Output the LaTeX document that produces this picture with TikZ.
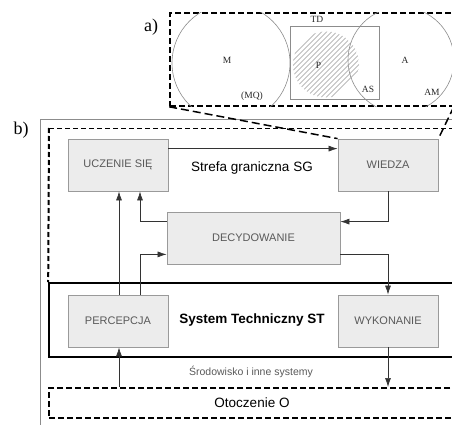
\documentclass[tikz,border=0pt]{standalone}
\usepackage{fontspec}
\setmainfont{Liberation Serif}
\setsansfont{Liberation Sans}
\usetikzlibrary{arrows.meta}

\definecolor{boxfill}{HTML}{ECECEC}
\definecolor{boxline}{HTML}{9A9A9A}
\definecolor{boxtext}{HTML}{595959}
\definecolor{linegray}{HTML}{8C8C8C}

\begin{document}
\begin{tikzpicture}[x=1pt, y=-1pt,
  blok/.style={draw=boxline, fill=boxfill, line width=0.8pt, minimum width=100pt,
    minimum height=52pt, inner sep=0pt, text=boxtext,
    font=\sffamily\fontsize{11}{13}\selectfont},
  conn/.style={draw=black!80, line width=0.7pt, -{Latex[length=9pt,width=6pt]}},
  bigdash/.style={draw=black, line width=1.6pt, dash pattern=on 6pt off 3pt},
  zoomdash/.style={draw=black, line width=1.5pt, dash pattern=on 8pt off 4pt},
  lbl/.style={font=\fontsize{9.5}{10}\selectfont, text=black!85, inner sep=0pt},
  thin/.style={draw=linegray, line width=0.6pt}]
\useasboundingbox (0,0) rectangle (452,425);

% a)
\node[font=\fontsize{18}{19}\selectfont] (etA) at (151,27) {a)};
\node[bigdash, minimum width=283pt, minimum height=93pt, inner sep=0pt] (detal) at (311.5,59.5) {};
\begin{scope}
\clip (detal.north west) rectangle (detal.south east);
\draw[thin] (231,63) circle [radius=59];
\draw[thin] (401,60) circle [radius=53];
\end{scope}
\node[draw=linegray, line width=0.8pt, minimum width=89pt, minimum height=73pt, inner sep=0pt] (td) at (334.5,62.5) {};
\begin{scope}
\clip (326,64.5) circle [radius=33];
\foreach \x in {244,249,...,328}
  \draw[draw=boxline, line width=0.6pt] (\x,104.5) -- (\x+80,24.5);
\end{scope}
\node[lbl] (tdlab) at (317,19.5) {TD};
\node[lbl] (p) at (318.5,65) {P};
\node[lbl] (m) at (227,60) {M};
\node[lbl] (mq) at (252,96.5) {(MQ)};
\node[lbl] (a) at (405,60) {A};
\node[lbl] (as) at (368,89) {AS};
\node[lbl] (am) at (432,92.5) {AM};

% b)
\node[font=\fontsize{18}{19}\selectfont] (etB) at (21,130) {b)};
\draw[draw=linegray, line width=0.8pt] (40,430) -- (40,119) -- (460,119);
\node[draw, line width=1.6pt, minimum width=406pt, minimum height=74pt, inner sep=0pt,
  font=\sffamily\bfseries\fontsize{13.5}{15}\selectfont] (st) at (252,320) {System Techniczny ST};
\draw[draw=black, line width=0.8pt, dash pattern=on 5pt off 3pt] (49,128) -- (460,128);
\draw[draw=black, line width=2pt, dash pattern=on 5pt off 3pt] (49,128) -- (st.north west);
\node[font=\sffamily\fontsize{13.5}{15}\selectfont] (sg) at (252,168) {Strefa graniczna SG};

\node[blok] (ucz) at (118,165) {UCZENIE SIĘ};
\node[blok] (wiedza) at (388,165) {WIEDZA};
\node[blok, minimum width=173pt] (decyd) at (253.5,238) {DECYDOWANIE};
\node[blok] (percep) at (118,321) {PERCEPCJA};
\node[blok] (wyk) at (388,321) {WYKONANIE};

\node[font=\sffamily\fontsize{10.5}{12}\selectfont, text=boxtext] (srod) at (251,372) {Środowisko i inne systemy};
\node[bigdash, line width=2pt, minimum width=406pt, minimum height=30pt, inner sep=0pt,
  font=\sffamily\fontsize{13.5}{15}\selectfont] (otocz) at (252,403) {Otoczenie O};

\draw[zoomdash] (detal.south west) -- (wiedza.north west);
\draw[zoomdash] (detal.south east) -- (wiedza.north east);

\draw[conn] ([yshift=-10pt]ucz.north east) -- ([yshift=-10pt]wiedza.north west);
\draw[conn] (wiedza.south) |- ([yshift=-10pt]decyd.north east);
\draw[conn] ([yshift=-10pt]decyd.north west) -| ([xshift=22pt]ucz.south);
\draw[conn] ([xshift=1pt]percep.north) -- ([xshift=1pt]ucz.south);
\draw[conn] ([xshift=22pt]percep.north) |- ([yshift=10pt]decyd.south west);
\draw[conn] ([yshift=10pt]decyd.south east) -| (wyk.north);
\draw[conn] ([xshift=1pt]percep.south |- otocz.north) -- ([xshift=1pt]percep.south);
\draw[conn] (wyk.south) -- (wyk.south |- otocz.north);
\end{tikzpicture}
\end{document}
